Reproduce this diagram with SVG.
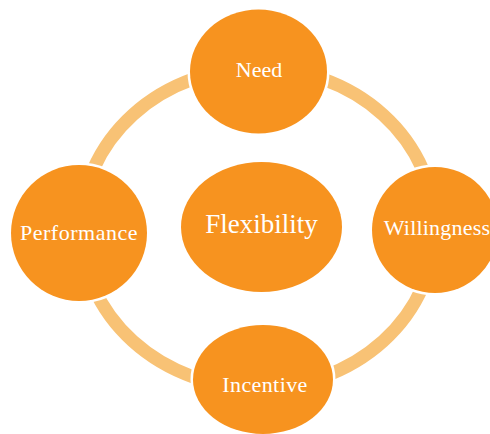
<svg xmlns="http://www.w3.org/2000/svg" width="490" height="434" viewBox="0 0 490 434">
<style>
.arc{fill:none;stroke:#F8C275;stroke-width:13}
.node{fill:#F7931F;stroke:#FFFFFF;stroke-width:5;paint-order:stroke}
.lbl{fill:#FFFFFF;font-family:"Liberation Serif","DejaVu Serif",serif;font-size:22px;text-anchor:middle}
</style>
<rect width="490" height="434" fill="#FFFFFF"/>
<g id="connectors">
<path class="arc" d="M258,68 A177,160 0 0 1 435,228"/>
<path class="arc" d="M435,228 A177,160 0 0 1 258,388"/>
<path class="arc" d="M258,388 A177,160 0 0 1 81,228"/>
<path class="arc" d="M81,228 A177,160 0 0 1 258,68"/>
</g>
<g id="node-flexibility">
<ellipse class="node" cx="261.5" cy="227" rx="80.5" ry="65"/>
<text class="lbl" x="261.5" y="233" style="font-size:27px">Flexibility</text>
</g>
<g id="node-need">
<ellipse class="node" cx="258.5" cy="71.5" rx="68.5" ry="62"/>
<text class="lbl" x="259" y="77">Need</text>
</g>
<g id="node-willingness">
<ellipse class="node" cx="435" cy="230" rx="63" ry="63"/>
<text class="lbl" x="437" y="235" style="letter-spacing:0.2px">Willingness</text>
</g>
<g id="node-incentive">
<ellipse class="node" cx="263" cy="379.5" rx="70" ry="54.5"/>
<text class="lbl" x="265" y="392" style="letter-spacing:0.4px">Incentive</text>
</g>
<g id="node-performance">
<ellipse class="node" cx="79" cy="233" rx="68" ry="68"/>
<text class="lbl" x="79" y="240" style="letter-spacing:0.5px">Performance</text>
</g>
</svg>
